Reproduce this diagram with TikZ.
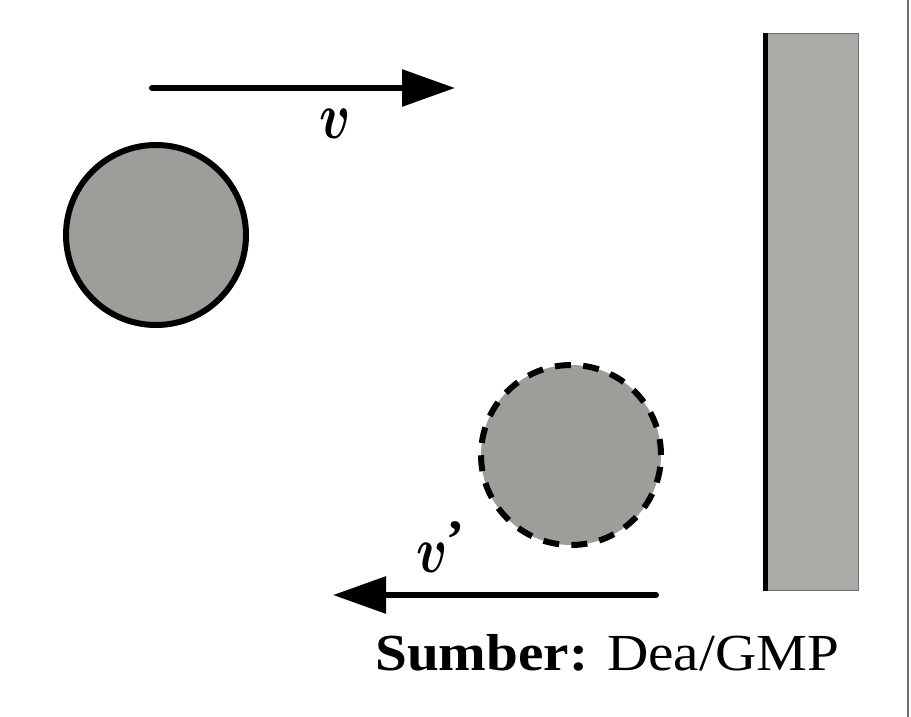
\documentclass[tikz,border=0pt]{standalone}
\usepackage{graphicx}
\usepackage{fontspec}
\newfontfamily\libserif{Liberation Serif}
\usetikzlibrary{arrows.meta}
\definecolor{ballgray}{RGB}{156,158,153}
\definecolor{wallgray}{RGB}{170,172,167}
\definecolor{edgegray}{RGB}{110,110,110}
\tikzset{
  ball/.style={circle, minimum size=180pt, inner sep=0pt, fill=ballgray, draw=black, line width=6pt},
  ghostball/.style={ball, dash pattern=on 16pt off 12.3pt},
  velarrow/.style={line width=6pt, line cap=round, -{Triangle[length=53pt 0 0, width=36pt 0 0]}},
  vlabel/.style={inner sep=0pt},
}
\newcommand{\bigv}{\scalebox{5.2}[6.6]{\boldmath$v$}}
\begin{document}
\begin{tikzpicture}[x=1pt,y=-1pt]
\useasboundingbox (0,0) rectangle (911,717);
\fill[white] (0,0) rectangle (911,717);
% scan edge at right
\draw[edgegray, line width=2pt] (908,0) -- (908,717);
% wall
\node[draw=edgegray, line width=1pt, fill=wallgray, minimum width=95pt, minimum height=557pt, inner sep=0pt, anchor=north west] (wall) at (763,33) {};
\draw[black, line width=5pt] ([xshift=2.5pt]wall.north west) -- ([xshift=2.5pt]wall.south west);
% balls
\node[ball] (ball1) at (156,235) {};
\node[ghostball] (ball2) at (571,455) {};
% velocity arrows
\coordinate (a1s) at (152,88);
\coordinate (a1e) at (455,88);
\draw[velarrow] (a1s) -- (a1e);
\node[vlabel] (v1) at (335,124) {\bigv};
\coordinate (a2s) at (656,595);
\coordinate (a2e) at (333,595);
\draw[velarrow] (a2s) -- (a2e);
\node[vlabel] (v2) at (432,558) {\bigv};
\node[inner sep=0pt, font=\libserif\bfseries\fontsize{54}{54}\selectfont] (prime) at (455,540) {’};
% source
\node[inner sep=0pt, anchor=base west, xscale=1.1, font=\libserif\fontsize{52}{52}\selectfont] (src) at (375,670) {\textbf{Sumber:} Dea/GMP};
\end{tikzpicture}
\end{document}
